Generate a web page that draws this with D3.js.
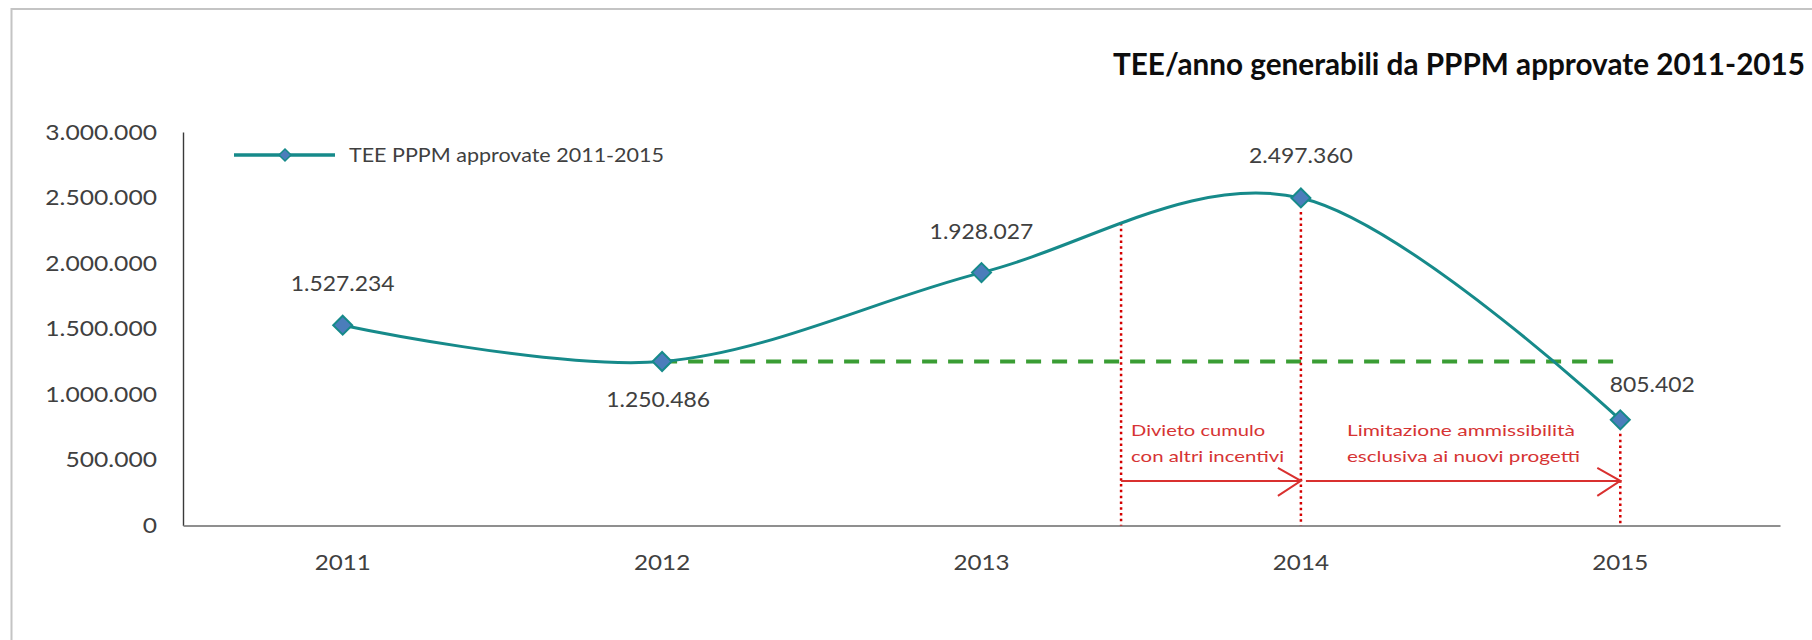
<!DOCTYPE html>
<html>
<head>
<meta charset="utf-8">
<script src="https://cdn.jsdelivr.net/npm/d3@7"></script>
<style>
    html, body { margin: 0; padding: 0; background: #ffffff; overflow: hidden; }
    .teeChart svg { display: block; font-family: Lato, "Open Sans", sans-serif; }
    .teeChart__axis text { fill: #404040; font-size: 22px; font-family: Lato, "Open Sans", sans-serif; }
    .teeChart__label { fill: #404040; font-size: 21px; text-anchor: middle; }
    .teeChart__note { fill: #d63434; font-size: 15px; text-anchor: start; }
</style>
</head>
<body>
<div class="teeChart"></div>
<script>
// ----- DATA -----------------------------------------------------------
const years = [ "2011", "2012", "2013", "2014", "2015" ];
const teeValues = [ 1527234, 1250486, 1928027, 2497360, 805402 ];
const yTicks = [ 0, 500000, 1000000, 1500000, 2000000, 2500000, 3000000 ];

const seriesName = "TEE PPPM approvate 2011-2015";
const chartTitle = "TEE/anno generabili da PPPM approvate 2011-2015";

// annotation texts (two lines each), one per arrow
const noteTexts = [
    [ "Divieto cumulo", "con altri incentivi" ],
    [ "Limitazione ammissibilità", "esclusiva  ai nuovi progetti" ]
];

// ----- HELPERS --------------------------------------------------------
const itFormat = d3.formatLocale({
    decimal: ",",
    thousands: ".",
    grouping: [3],
    currency: ["€", ""]
}).format(",d");

// the source picture is a bit stretched sideways, widen text to match
function _stretch( sel, factor )
{
    sel.each(function()
    {
        let w = this.getComputedTextLength();
        this.setAttribute("textLength", w * factor);
        this.setAttribute("lengthAdjust", "spacingAndGlyphs");
    });
}

function _fit( sel, width )
{
    sel.attr("textLength", width).attr("lengthAdjust", "spacingAndGlyphs");
}

function _diamond( r )
{
    return "M0," + (-r) + "L" + r + ",0L0," + r + "L" + (-r) + ",0Z";
}

// y of a path at a given x (binary search along its length)
function _pathYAt( node, xTarget )
{
    let lo = 0, hi = node.getTotalLength();
    for( let i = 0; i < 40; i++ )
    {
        let mid = (lo + hi) / 2;
        if( node.getPointAtLength(mid).x < xTarget ) lo = mid; else hi = mid;
    }
    return node.getPointAtLength(lo).y;
}

// ----- CHART ----------------------------------------------------------
function _drawTeeChart()
{
    const width = 1812, height = 640;
    const margin = { top: 132, bottom: 114.5, left: 183, right: 32 };
    const teal = "#168a8a";

    let svg = d3.select(".teeChart").append("svg")
                .attr("width", width)
                .attr("height", height);

    // outer frame: only the top and left edges show in the source crop
    svg.append("path")
        .attr("d", "M11.5," + height + "V9H" + width)
        .attr("fill", "none")
        .attr("stroke", "#c4c4c4")
        .attr("stroke-width", 2);

    let x = d3.scaleBand()
        .domain(years)
        .range([margin.left, width - margin.right]);

    let y = d3.scaleLinear()
        .domain([0, 3000000])
        .range([height - margin.bottom, margin.top]);

    const cx = d => x(d) + x.bandwidth() / 2;
    const data = years.map((d, i) => ({ year: d, value: teeValues[i] }));

    // axes
    let yAxisGroup = svg.append("g")
        .classed("teeChart__axis", true)
        .attr("transform", "translate(" + margin.left + ",0)")
        .call(d3.axisLeft(y).tickValues(yTicks).tickFormat(itFormat)
                .tickSize(0).tickSizeOuter(0).tickPadding(26));
    yAxisGroup.select(".domain").attr("stroke", "#3a3a3a").attr("stroke-width", 1.4);
    _stretch(yAxisGroup.selectAll("text"), 1.12);

    let xAxisGroup = svg.append("g")
        .classed("teeChart__axis", true)
        .attr("transform", "translate(0," + y(0) + ")")
        .call(d3.axisBottom(x).tickSize(0).tickSizeOuter(0).tickPadding(29));
    xAxisGroup.select(".domain").attr("stroke", "#8f8f8f").attr("stroke-width", 2);
    _stretch(xAxisGroup.selectAll("text"), 1.1);

    // green reference level at the 2012 value
    svg.append("line")
        .attr("x1", cx("2012")).attr("x2", cx("2015"))
        .attr("y1", y(teeValues[1])).attr("y2", y(teeValues[1]))
        .attr("stroke", "#3a9d34")
        .attr("stroke-width", 4)
        .attr("stroke-dasharray", "15,11");

    // red dotted verticals go under the series line
    let dots = svg.append("g").classed("teeChart__dots", true);

    // series line (smoothed like Excel)
    let line = d3.line()
        .x(d => cx(d.year))
        .y(d => y(d.value))
        .curve(d3.curveCardinal.tension(0));

    let path = svg.append("path")
        .datum(data)
        .attr("fill", "none")
        .attr("stroke", teal)
        .attr("stroke-width", 3)
        .attr("d", line);

    // one where the ban starts, then 2014 and 2015
    const banStartX = cx("2013") + x.bandwidth() * 0.437;
    dots.append("line")
        .attr("x1", banStartX).attr("x2", banStartX)
        .attr("y1", _pathYAt(path.node(), banStartX)).attr("y2", y(0));
    [ 3, 4 ].forEach(i =>
    {
        dots.append("line")
            .attr("x1", cx(years[i])).attr("x2", cx(years[i]))
            .attr("y1", y(teeValues[i]) + 14).attr("y2", y(0));
    });
    dots.selectAll("line")
        .attr("stroke", "#d40000")
        .attr("stroke-width", 2.5)
        .attr("stroke-dasharray", "2.5,3.3");

    // markers
    svg.selectAll(".teeChart__marker")
        .data(data)
        .enter()
            .append("path")
            .classed("teeChart__marker", true)
            .attr("transform", d => "translate(" + cx(d.year) + "," + y(d.value) + ")")
            .attr("d", _diamond(9.5))
            .attr("fill", "#4b7dbb")
            .attr("stroke", teal)
            .attr("stroke-width", 2);

    // value labels, offsets as placed in the source
    const labelOffsets = [ [0, -34], [-4, 46], [0, -34], [0, -35], [32, -28] ];
    let labels = svg.selectAll(".teeChart__label")
        .data(data)
        .enter()
            .append("text")
            .classed("teeChart__label", true)
            .attr("x", (d, i) => cx(d.year) + labelOffsets[i][0])
            .attr("y", (d, i) => y(d.value) + labelOffsets[i][1])
            .text(d => itFormat(d.value));
    _stretch(labels, 1.09);

    // arrows + notes
    const arrowY = y(340000);
    const spans = [
        { from: banStartX, to: cx("2014"), textX: banStartX + 10 },
        { from: cx("2014") + 5, to: cx("2015"), textX: cx("2014") + 46 }
    ];
    const noteWidths = [ [134, 153], [228, 233] ];

    spans.forEach((s, i) =>
    {
        let g = svg.append("g").classed("teeChart__arrow", true)
                    .attr("stroke", "#d9302f")
                    .attr("stroke-width", 2)
                    .attr("fill", "none");
        g.append("line")
            .attr("x1", s.from).attr("x2", s.to)
            .attr("y1", arrowY).attr("y2", arrowY);
        g.append("path")
            .attr("d", "M" + (s.to - 23) + "," + (arrowY - 13) + "L" + s.to + "," + arrowY +
                       "L" + (s.to - 23) + "," + (arrowY + 15));

        noteTexts[i].forEach((t, j) =>
        {
            svg.append("text")
                .classed("teeChart__note", true)
                .attr("x", s.textX)
                .attr("y", arrowY - 45 + j * 26)
                .text(t)
                .call(_fit, noteWidths[i][j]);
        });
    });

    // legend
    let legend = svg.append("g").classed("teeChart__legend", true);
    legend.append("line")
        .attr("x1", 234).attr("x2", 335)
        .attr("y1", 155).attr("y2", 155)
        .attr("stroke", teal)
        .attr("stroke-width", 3.5);
    legend.append("path")
        .attr("transform", "translate(285,155)")
        .attr("d", _diamond(6))
        .attr("fill", "#4b7dbb")
        .attr("stroke", teal)
        .attr("stroke-width", 1.5);
    legend.append("text")
        .attr("x", 349).attr("y", 162)
        .attr("fill", "#404040")
        .attr("font-size", 19)
        .text(seriesName)
        .call(_fit, 315);

    // title
    svg.append("text")
        .attr("x", 1113).attr("y", 75)
        .attr("fill", "#0d0d0d")
        .attr("font-size", 30)
        .attr("font-weight", "bold")
        .text(chartTitle)
        .call(_fit, 692);
}

_drawTeeChart();
</script>
</body>
</html>
